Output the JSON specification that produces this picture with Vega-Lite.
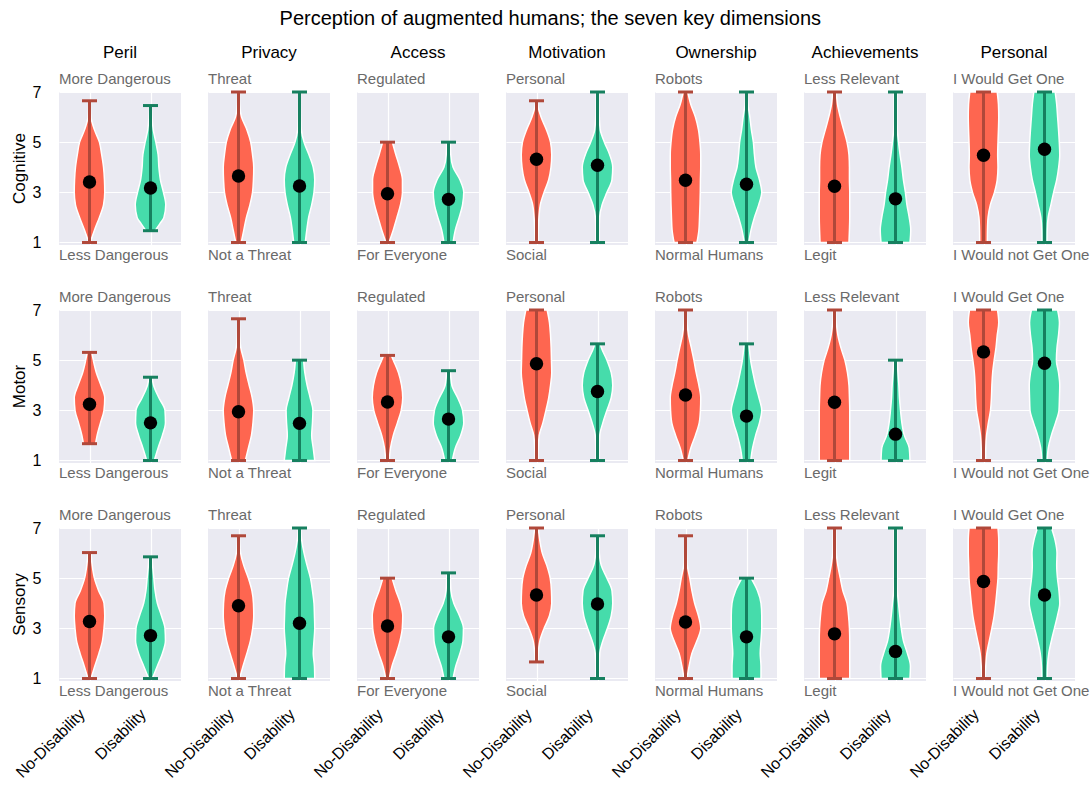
{
  "$schema": "https://vega.github.io/schema/vega-lite/v6.json",
  "background": "white",
  "padding": {"top": 9, "left": 11, "right": 2, "bottom": 5},
  "title": {"text": "Perception of augmented humans; the seven key dimensions", "fontSize": 20, "font": "Liberation Sans", "fontWeight": "normal", "color": "black", "anchor": "middle", "offset": 15},
  "datasets": {
    "labels": [
      {"d": "Peril", "top": "More Dangerous", "bot": "Less Dangerous"},
      {"d": "Privacy", "top": "Threat", "bot": "Not a Threat"},
      {"d": "Access", "top": "Regulated", "bot": "For Everyone"},
      {"d": "Motivation", "top": "Personal", "bot": "Social"},
      {"d": "Ownership", "top": "Robots", "bot": "Normal Humans"},
      {"d": "Achievements", "top": "Less Relevant", "bot": "Legit"},
      {"d": "Personal", "top": "I Would Get One", "bot": "I Would not Get One"}
    ]
  },
  "data": {"values": [
    {"m":"Cognitive","d":"Peril","g":"No-Disability","lo":1,"hi":6.65,"mean":3.41,"v":[1,1.5,2,2.5,3,3.5,4,4.5,5,5.5,6,6.5,6.65],"w":[0.05,0.33,0.65,0.92,1,0.98,0.92,0.8,0.65,0.32,0.1,0.05,0.04]},
    {"m":"Cognitive","d":"Peril","g":"Disability","lo":1.47,"hi":6.46,"mean":3.17,"v":[1.47,1.75,2,2.5,3,3.5,4,4.5,5,5.5,6,6.46],"w":[0.3,0.62,0.88,1,0.85,0.65,0.55,0.5,0.35,0.18,0.1,0.05]},
    {"m":"Cognitive","d":"Privacy","g":"No-Disability","lo":1,"hi":7,"mean":3.65,"v":[1,1.5,2,2.5,3,3.5,4,4.5,5,5.5,6,6.5,7],"w":[0.18,0.35,0.52,0.75,0.92,0.98,1,0.92,0.8,0.55,0.2,0.08,0.05]},
    {"m":"Cognitive","d":"Privacy","g":"Disability","lo":1,"hi":7,"mean":3.25,"v":[1,1.5,2,2.5,3,3.5,4,4.5,5,5.5,6,6.5,7],"w":[0.38,0.48,0.6,0.8,0.95,1,0.9,0.62,0.3,0.12,0.08,0.06,0.05]},
    {"m":"Cognitive","d":"Access","g":"No-Disability","lo":1,"hi":5,"mean":2.94,"v":[1,1.5,2,2.5,3,3.5,4,4.5,5],"w":[0.1,0.38,0.62,0.85,0.98,0.98,0.8,0.55,0.32]},
    {"m":"Cognitive","d":"Access","g":"Disability","lo":1,"hi":5,"mean":2.72,"v":[1,1.5,2,2.5,3,3.5,4,4.5,5],"w":[0.3,0.45,0.7,0.92,1,0.75,0.3,0.15,0.12]},
    {"m":"Cognitive","d":"Motivation","g":"No-Disability","lo":1,"hi":6.65,"mean":4.32,"v":[1,1.5,2,2.5,3,3.5,4,4.5,5,5.5,6,6.5,6.65],"w":[0.1,0.12,0.16,0.25,0.5,0.8,0.95,1,0.92,0.65,0.3,0.08,0.05]},
    {"m":"Cognitive","d":"Motivation","g":"Disability","lo":1,"hi":7,"mean":4.08,"v":[1,1.5,2,2.5,3,3.5,4,4.5,5,5.5,6,6.5,7],"w":[0.12,0.12,0.14,0.3,0.62,0.95,1,0.8,0.45,0.18,0.12,0.1,0.08]},
    {"m":"Cognitive","d":"Ownership","g":"No-Disability","lo":1,"hi":7,"mean":3.48,"v":[1,1.5,2,2.5,3,3.5,4,4.5,5,5.5,6,6.5,7],"w":[0.75,0.88,0.92,0.95,0.97,0.98,1,1,0.95,0.85,0.65,0.35,0.15]},
    {"m":"Cognitive","d":"Ownership","g":"Disability","lo":1,"hi":7,"mean":3.32,"v":[1,1.5,2,2.5,3,3.5,4,4.5,5,5.5,6,6.5,7],"w":[0.15,0.3,0.52,0.8,1,0.85,0.62,0.52,0.45,0.32,0.22,0.1,0.05]},
    {"m":"Cognitive","d":"Achievements","g":"No-Disability","lo":1,"hi":7,"mean":3.24,"v":[1,1.5,2,2.5,3,3.5,4,4.5,5,5.5,6,6.5,7],"w":[0.95,0.98,1,1,1,0.98,0.98,0.95,0.82,0.6,0.38,0.2,0.12]},
    {"m":"Cognitive","d":"Achievements","g":"Disability","lo":1,"hi":7,"mean":2.74,"v":[1,1.5,2,2.5,3,3.5,4,4.5,5,5.5,6,6.5,7],"w":[0.95,1,0.9,0.75,0.65,0.52,0.42,0.3,0.2,0.12,0.1,0.1,0.1]},
    {"m":"Cognitive","d":"Personal","g":"No-Disability","lo":1,"hi":7,"mean":4.48,"v":[1,1.5,2,2.5,3,3.5,4,4.5,5,5.5,6,6.5,7],"w":[0.25,0.26,0.3,0.45,0.72,0.9,0.95,0.93,0.95,0.98,1,0.98,0.9]},
    {"m":"Cognitive","d":"Personal","g":"Disability","lo":1,"hi":7,"mean":4.72,"v":[1,1.5,2,2.5,3,3.5,4,4.5,5,5.5,6,6.5,7],"w":[0.17,0.18,0.24,0.42,0.6,0.8,0.93,1,0.97,0.92,0.86,0.8,0.7]},
    {"m":"Motor","d":"Peril","g":"No-Disability","lo":1.67,"hi":5.31,"mean":3.24,"v":[1.67,2,2.5,3,3.5,4,4.5,5,5.31],"w":[0.4,0.5,0.72,0.95,1,0.75,0.45,0.25,0.15]},
    {"m":"Motor","d":"Peril","g":"Disability","lo":1,"hi":4.32,"mean":2.5,"v":[1,1.5,2,2.5,3,3.5,4,4.32],"w":[0.25,0.5,0.78,0.98,0.95,0.55,0.2,0.1]},
    {"m":"Motor","d":"Privacy","g":"No-Disability","lo":1,"hi":6.65,"mean":2.94,"v":[1,1.5,2,2.5,3,3.5,4,4.5,5,5.5,6,6.65],"w":[0.45,0.65,0.85,0.95,1,0.9,0.7,0.5,0.35,0.15,0.08,0.05]},
    {"m":"Motor","d":"Privacy","g":"Disability","lo":1,"hi":5,"mean":2.48,"v":[1,1.5,2,2.5,3,3.5,4,4.5,5],"w":[1,0.9,0.8,0.85,0.88,0.7,0.5,0.35,0.27]},
    {"m":"Motor","d":"Access","g":"No-Disability","lo":1,"hi":5.19,"mean":3.33,"v":[1,1.5,2,2.5,3,3.5,4,4.5,5,5.19],"w":[0.12,0.2,0.38,0.65,0.9,1,0.92,0.72,0.38,0.25]},
    {"m":"Motor","d":"Access","g":"Disability","lo":1,"hi":4.58,"mean":2.65,"v":[1,1.5,2,2.5,3,3.5,4,4.58],"w":[0.25,0.45,0.8,1,0.92,0.6,0.22,0.12]},
    {"m":"Motor","d":"Motivation","g":"No-Disability","lo":1,"hi":7,"mean":4.86,"v":[1,1.5,2,2.5,3,3.5,4,4.5,5,5.5,6,6.5,7],"w":[0.1,0.12,0.18,0.42,0.62,0.8,0.92,1,0.98,0.96,0.92,0.85,0.7]},
    {"m":"Motor","d":"Motivation","g":"Disability","lo":1,"hi":5.65,"mean":3.75,"v":[1,1.5,2,2.5,3,3.5,4,4.5,5,5.5,5.65],"w":[0.12,0.12,0.15,0.35,0.62,0.9,1,0.9,0.62,0.25,0.18]},
    {"m":"Motor","d":"Ownership","g":"No-Disability","lo":1,"hi":7,"mean":3.61,"v":[1,1.5,2,2.5,3,3.5,4,4.5,5,5.5,6,6.5,7],"w":[0.15,0.35,0.65,0.9,0.98,1,0.88,0.7,0.55,0.38,0.2,0.1,0.05]},
    {"m":"Motor","d":"Ownership","g":"Disability","lo":1,"hi":5.65,"mean":2.77,"v":[1,1.5,2,2.5,3,3.5,4,4.5,5,5.5,5.65],"w":[0.28,0.4,0.6,0.85,1,0.82,0.6,0.42,0.27,0.18,0.16]},
    {"m":"Motor","d":"Achievements","g":"No-Disability","lo":1,"hi":7,"mean":3.32,"v":[1,1.5,2,2.5,3,3.5,4,4.5,5,5.5,6,6.5,7],"w":[1,1,1,1,1,0.98,0.95,0.85,0.68,0.42,0.22,0.12,0.08]},
    {"m":"Motor","d":"Achievements","g":"Disability","lo":1,"hi":5,"mean":2.05,"v":[1,1.5,2,2.5,3,3.5,4,4.5,5],"w":[0.95,0.9,0.58,0.42,0.33,0.26,0.22,0.16,0.12]},
    {"m":"Motor","d":"Personal","g":"No-Disability","lo":1,"hi":7,"mean":5.33,"v":[1,1.5,2,2.5,3,3.5,4,4.5,5,5.5,6,6.5,7],"w":[0.14,0.15,0.2,0.32,0.46,0.52,0.55,0.6,0.7,0.82,0.9,1,0.92]},
    {"m":"Motor","d":"Personal","g":"Disability","lo":1,"hi":7,"mean":4.88,"v":[1,1.5,2,2.5,3,3.5,4,4.5,5,5.5,6,6.5,7],"w":[0.18,0.25,0.45,0.72,0.95,0.98,1,0.92,0.78,0.82,0.92,0.98,0.86]},
    {"m":"Sensory","d":"Peril","g":"No-Disability","lo":1,"hi":6.02,"mean":3.27,"v":[1,1.5,2,2.5,3,3.5,4,4.5,5,5.5,6.02],"w":[0.1,0.35,0.62,0.85,0.95,1,0.95,0.6,0.32,0.18,0.1]},
    {"m":"Sensory","d":"Peril","g":"Disability","lo":1,"hi":5.85,"mean":2.71,"v":[1,1.5,2,2.5,3,3.5,4,4.5,5,5.5,5.85],"w":[0.12,0.45,0.78,0.98,0.95,0.72,0.45,0.3,0.22,0.14,0.1]},
    {"m":"Sensory","d":"Privacy","g":"No-Disability","lo":1,"hi":6.69,"mean":3.9,"v":[1,1.5,2,2.5,3,3.5,4,4.5,5,5.5,6,6.5,6.69],"w":[0.07,0.3,0.55,0.78,0.93,1,0.98,0.88,0.65,0.35,0.14,0.07,0.05]},
    {"m":"Sensory","d":"Privacy","g":"Disability","lo":1,"hi":7,"mean":3.2,"v":[1,1.5,2,2.5,3,3.5,4,4.5,5,5.5,6,6.5,7],"w":[1,0.98,0.9,0.95,1,0.98,0.95,0.85,0.72,0.5,0.3,0.15,0.07]},
    {"m":"Sensory","d":"Access","g":"No-Disability","lo":1,"hi":5,"mean":3.09,"v":[1,1.5,2,2.5,3,3.5,4,4.5,5],"w":[0.12,0.3,0.58,0.82,0.97,1,0.85,0.55,0.3]},
    {"m":"Sensory","d":"Access","g":"Disability","lo":1,"hi":5.21,"mean":2.66,"v":[1,1.5,2,2.5,3,3.5,4,4.5,5,5.21],"w":[0.3,0.48,0.75,0.95,0.98,0.72,0.35,0.16,0.12,0.1]},
    {"m":"Sensory","d":"Motivation","g":"No-Disability","lo":1.66,"hi":7,"mean":4.33,"v":[1.66,2,2.5,3,3.5,4,4.5,5,5.5,6,6.5,7],"w":[0.1,0.12,0.22,0.5,0.85,1,0.98,0.9,0.68,0.38,0.22,0.12]},
    {"m":"Sensory","d":"Motivation","g":"Disability","lo":1,"hi":6.69,"mean":3.97,"v":[1,1.5,2,2.5,3,3.5,4,4.5,5,5.5,6,6.5,6.69],"w":[0.12,0.12,0.15,0.35,0.65,0.9,1,0.95,0.62,0.25,0.12,0.08,0.06]},
    {"m":"Sensory","d":"Ownership","g":"No-Disability","lo":1,"hi":6.69,"mean":3.25,"v":[1,1.5,2,2.5,3,3.5,4,4.5,5,5.5,6,6.5,6.69],"w":[0.1,0.24,0.42,0.75,1,0.85,0.6,0.42,0.28,0.12,0.07,0.05,0.05]},
    {"m":"Sensory","d":"Ownership","g":"Disability","lo":1,"hi":5,"mean":2.66,"v":[1,1.5,2,2.5,3,3.5,4,4.5,5],"w":[0.95,0.95,0.9,0.95,1,1,0.95,0.72,0.3]},
    {"m":"Sensory","d":"Achievements","g":"No-Disability","lo":1,"hi":7,"mean":2.78,"v":[1,1.5,2,2.5,3,3.5,4,4.5,5,5.5,6,6.5,7],"w":[1,1,1,1,0.98,0.92,0.82,0.55,0.38,0.22,0.12,0.1,0.08]},
    {"m":"Sensory","d":"Achievements","g":"Disability","lo":1,"hi":7,"mean":2.08,"v":[1,1.5,2,2.5,3,3.5,4,4.5,5,5.5,6,6.5,7],"w":[0.95,0.98,0.78,0.52,0.38,0.28,0.2,0.12,0.1,0.09,0.09,0.09,0.09]},
    {"m":"Sensory","d":"Personal","g":"No-Disability","lo":1,"hi":7,"mean":4.87,"v":[1,1.5,2,2.5,3,3.5,4,4.5,5,5.5,6,6.5,7],"w":[0.1,0.15,0.22,0.38,0.55,0.7,0.8,0.88,0.95,0.97,1,1,0.95]},
    {"m":"Sensory","d":"Personal","g":"Disability","lo":1,"hi":7,"mean":4.33,"v":[1,1.5,2,2.5,3,3.5,4,4.5,5,5.5,6,6.5,7],"w":[0.18,0.2,0.28,0.45,0.65,0.85,1,0.95,0.85,0.8,0.82,0.7,0.46]}
  ]},
  "transform": [
    {"lookup": "d", "from": {"data": {"name": "labels"}, "key": "d", "fields": ["top", "bot"]}},
    {"calculate": "datum.g === 'No-Disability' ? 1 : 2", "as": "gx"}
  ],
  "facet": {
    "row": {"field": "m", "type": "nominal", "title": null, "sort": ["Cognitive", "Motor", "Sensory"],
      "header": {"labelAngle": -90, "labelOrient": "left", "labelFontSize": 17, "labelFont": "Liberation Sans", "labelColor": "black", "labelPadding": -5}},
    "column": {"field": "d", "type": "nominal", "title": null, "sort": ["Peril", "Privacy", "Access", "Motivation", "Ownership", "Achievements", "Personal"],
      "header": {"labelFontSize": 17, "labelFont": "Liberation Sans", "labelColor": "black", "labelPadding": 30}}
  },
  "spacing": {"row": 65, "column": 27},
  "bounds": "flush",
  "spec": {
    "width": 122,
    "height": 153,
    "layer": [
      {
        "transform": [
          {"flatten": ["v", "w"]},
          {"calculate": "datum.gx - 0.25 * datum.w", "as": "xl"},
          {"calculate": "datum.gx + 0.25 * datum.w", "as": "xr"}
        ],
        "mark": {"type": "area", "orient": "horizontal", "interpolate": "monotone", "stroke": "white", "strokeWidth": 1.5, "fillOpacity": 1},
        "encoding": {
          "y": {"field": "v", "type": "quantitative", "title": null, "scale": {"domain": [0.9, 7], "nice": false, "zero": false},
            "axis": {"values": [1, 3, 5, 7], "domain": false, "ticks": false, "grid": true, "gridColor": "white", "gridWidth": 1.2, "labelFontSize": 16, "labelFont": "Liberation Sans", "labelColor": "black", "labelPadding": 18}},
          "x": {"field": "xl", "type": "quantitative", "title": null, "scale": {"domain": [0.5, 2.5], "nice": false, "zero": false},
            "axis": {"values": [1, 2], "labelExpr": "datum.value == 1 ? 'No-Disability' : 'Disability'", "domain": false, "ticks": false, "grid": true, "gridColor": "white", "gridWidth": 1.2, "labelAngle": -45, "labelAlign": "right", "labelBaseline": "bottom", "labelFontSize": 16, "labelFont": "Liberation Sans", "labelColor": "black", "labelPadding": 36, "labelOffset": -2}},
          "x2": {"field": "xr"},
          "fill": {"field": "g", "type": "nominal", "scale": {"domain": ["No-Disability", "Disability"], "range": ["#fe6650", "#46dcab"]}, "legend": null}
        }
      },
      {
        "mark": {"type": "rule", "strokeWidth": 3},
        "encoding": {
          "x": {"field": "gx", "type": "quantitative", "title": null},
          "y": {"field": "lo", "type": "quantitative", "title": null},
          "y2": {"field": "hi"},
          "stroke": {"field": "g", "type": "nominal", "scale": {"domain": ["No-Disability", "Disability"], "range": ["#b0483a", "#16805f"]}, "legend": null}
        }
      },
      {
        "mark": {"type": "tick", "orient": "horizontal", "size": 15, "thickness": 3, "opacity": 1},
        "encoding": {
          "x": {"field": "gx", "type": "quantitative", "title": null},
          "y": {"field": "lo", "type": "quantitative", "title": null},
          "color": {"field": "g", "type": "nominal", "scale": {"domain": ["No-Disability", "Disability"], "range": ["#b0483a", "#16805f"]}, "legend": null}
        }
      },
      {
        "mark": {"type": "tick", "orient": "horizontal", "size": 15, "thickness": 3, "opacity": 1},
        "encoding": {
          "x": {"field": "gx", "type": "quantitative", "title": null},
          "y": {"field": "hi", "type": "quantitative", "title": null},
          "color": {"field": "g", "type": "nominal", "legend": null}
        }
      },
      {
        "mark": {"type": "circle", "size": 180, "color": "black", "opacity": 1},
        "encoding": {
          "x": {"field": "gx", "type": "quantitative", "title": null},
          "y": {"field": "mean", "type": "quantitative", "title": null}
        }
      },
      {
        "transform": [{"filter": "datum.g === 'No-Disability'"}],
        "mark": {"type": "text", "align": "left", "baseline": "alphabetic", "dy": -8, "fontSize": 15, "font": "Liberation Sans", "color": "#6a6a6a"},
        "encoding": {
          "x": {"datum": 0.5, "type": "quantitative"},
          "y": {"datum": 7, "type": "quantitative"},
          "text": {"field": "top"}
        }
      },
      {
        "transform": [{"filter": "datum.g === 'No-Disability'"}],
        "mark": {"type": "text", "align": "left", "baseline": "alphabetic", "dy": 15, "fontSize": 15, "font": "Liberation Sans", "color": "#6a6a6a"},
        "encoding": {
          "x": {"datum": 0.5, "type": "quantitative"},
          "y": {"datum": 0.9, "type": "quantitative"},
          "text": {"field": "bot"}
        }
      }
    ]
  },
  "config": {
    "view": {"fill": "#EAEAF2", "stroke": null},
    "font": "Liberation Sans"
  }
}
